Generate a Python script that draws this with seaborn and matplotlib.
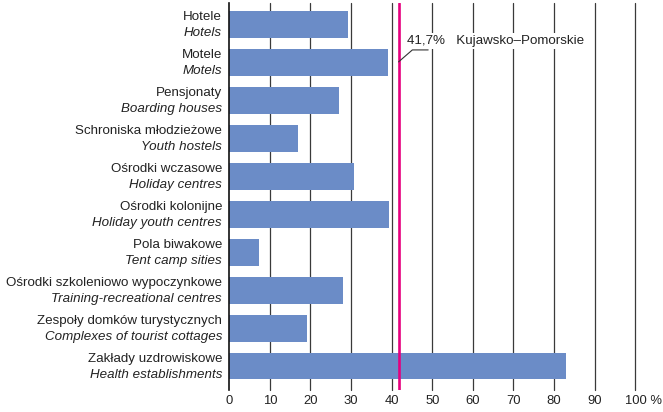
import matplotlib
matplotlib.use("Agg")
import matplotlib.pyplot as plt
import matplotlib.transforms as mtransforms
import seaborn as sns
import pandas as pd

# Dane
labels_pl = ["Hotele", "Motele", "Pensjonaty", "Schroniska młodzieżowe",
             "Ośrodki wczasowe", "Ośrodki kolonijne", "Pola biwakowe",
             "Ośrodki szkoleniowo wypoczynkowe", "Zespoły domków turystycznych",
             "Zakłady uzdrowiskowe"]
labels_en = ["Hotels", "Motels", "Boarding houses", "Youth hostels",
             "Holiday centres", "Holiday youth centres", "Tent camp sities",
             "Training-recreational centres", "Complexes of tourist cottages",
             "Health establishments"]
values = [29.2, 39.1, 27.0, 16.8, 30.7, 39.3, 7.3, 28.0, 19.1, 82.9]
x_ticks = [0, 10, 20, 30, 40, 50, 60, 70, 80, 90, 100]
x_tick_labels = ["0", "10", "20", "30", "40", "50", "60", "70", "80", "90", "100 %"]
region_value = 41.7
region_name = "Kujawsko–Pomorskie"

sns.set_style("white")
plt.rcParams["font.family"] = ["Liberation Sans", "DejaVu Sans"]

df = pd.DataFrame({"kategoria": labels_pl, "procent": values})

fig = plt.figure(figsize=(6.63, 4.12), dpi=100)
ax = fig.add_axes([0.3459, 0.054, 0.6121, 0.9387])

sns.barplot(data=df, x="procent", y="kategoria", color="#6b8cc7",
            saturation=1, width=0.7, linewidth=0, ax=ax, zorder=3)

ax.set_xlim(0, 100)
ax.set_ylim(9.62, -0.56)
ax.set_xticks(x_ticks)
ax.set_xticklabels(x_tick_labels, fontsize=9.4, color="#222222")
ax.tick_params(axis="x", length=0, pad=4)
# "100 %" – číslo na čárce, znak % vpravo
last = ax.get_xticklabels()[-1]
last.set_ha("left")
last.set_transform(last.get_transform() +
                   mtransforms.ScaledTranslation(-10 / 100, 0, fig.dpi_scale_trans))
ax.set_yticks([])
ax.set_xlabel("")
ax.set_ylabel("")

# svislé mřížky
for t in x_ticks[1:]:
    ax.axvline(t, color="#3a3a3a", lw=0.9, zorder=1, clip_on=False)

for s in ["top", "right", "bottom"]:
    ax.spines[s].set_visible(False)
ax.spines["left"].set_color("#111111")
ax.spines["left"].set_linewidth(1.2)
ax.spines["left"].set_zorder(4)

# popisky kategorií
tr = ax.get_yaxis_transform()
for i, (pl, en) in enumerate(zip(labels_pl, labels_en)):
    ax.text(-0.018, i - 0.2, pl, transform=tr, ha="right", va="center",
            fontsize=9.6, color="#222222")
    ax.text(-0.018, i + 0.22, en, transform=tr, ha="right", va="center",
            fontsize=9.6, style="italic", color="#222222")

# průměr vojvodství
ax.axvline(region_value, color="#e6007e", lw=1.9, zorder=5)
ax.plot([region_value, 45.1, 49.0], [0.99, 0.675, 0.675], color="#333333",
        lw=0.8, zorder=6)
ax.text(43.7, 0.44, f"{region_value:.1f}%".replace(".", ",") + "   " + region_name,
        ha="left", va="center", fontsize=9.6, color="#222222", zorder=7,
        bbox=dict(facecolor="white", edgecolor="none", pad=1.5))

plt.savefig("out.png", dpi=100)
